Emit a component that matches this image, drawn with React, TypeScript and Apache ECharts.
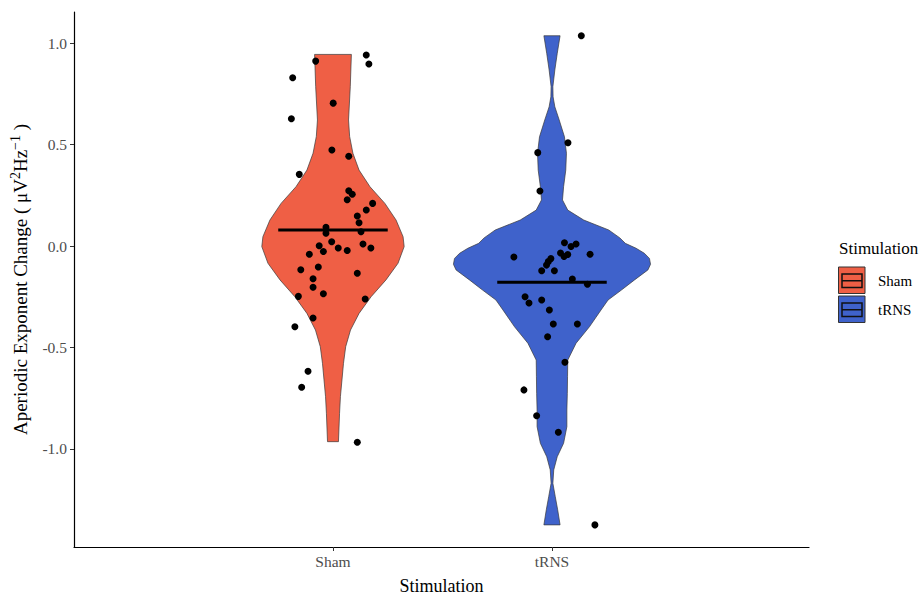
import React, { useEffect, useRef } from "react";
import * as echarts from "echarts";

const categories = ["Sham", "tRNS"];
const fillColors = ["#EF5F45", "#3F62CB"];
const yTickValues = [-1.0, -0.5, 0.0, 0.5, 1.0];
const medians = [0.079, -0.179];

// violin outline: values (top to bottom) and half-widths in category units
const shamViolinY = [0.944, 0.785, 0.621, 0.54, 0.457, 0.374, 0.292, 0.21, 0.128, 0.046, -0.003, -0.085, -0.167, -0.25, -0.332, -0.414, -0.496, -0.578, -0.66, -0.742, -0.824, -0.964];
const shamViolinW = [0.084, 0.079, 0.071, 0.076, 0.091, 0.119, 0.169, 0.237, 0.288, 0.32, 0.325, 0.297, 0.242, 0.174, 0.119, 0.08, 0.058, 0.048, 0.041, 0.034, 0.03, 0.025];
const trnsViolinY = [1.036, 0.949, 0.867, 0.785, 0.735, 0.686, 0.621, 0.538, 0.457, 0.374, 0.292, 0.227, 0.177, 0.128, 0.079, 0.04, 0.013, -0.011, -0.036, -0.061, -0.09, -0.118, -0.167, -0.217, -0.266, -0.315, -0.398, -0.479, -0.562, -0.644, -0.726, -0.808, -0.89, -0.972, -1.038, -1.103, -1.169, -1.235, -1.3, -1.374];
const trnsViolinW = [0.037, 0.024, 0.013, 0.004, 0.005, 0.013, 0.033, 0.057, 0.066, 0.063, 0.053, 0.048, 0.072, 0.145, 0.259, 0.31, 0.335, 0.384, 0.422, 0.445, 0.45, 0.438, 0.377, 0.317, 0.256, 0.224, 0.171, 0.11, 0.072, 0.071, 0.07, 0.068, 0.068, 0.053, 0.024, 0.008, 0.004, 0.015, 0.026, 0.037];

// individual points: horizontal jitter (category units) and values
const shamJitter = [-0.079, 0.152, 0.164, -0.184, 0.001, -0.19, -0.005, 0.072, -0.154, 0.072, 0.088, 0.065, 0.181, 0.152, 0.111, 0.119, -0.032, -0.032, 0.128, -0.063, -0.006, -0.044, 0.024, 0.065, 0.137, 0.173, -0.108, -0.147, -0.067, -0.091, -0.091, -0.044, 0.111, -0.158, 0.147, -0.091, -0.174, -0.114, -0.143, 0.111];
const shamValues = [0.911, 0.941, 0.897, 0.829, 0.704, 0.627, 0.473, 0.442, 0.353, 0.272, 0.255, 0.228, 0.21, 0.177, 0.148, 0.115, 0.092, 0.063, 0.07, 0.001, 0.021, -0.027, -0.01, -0.022, 0.01, -0.01, -0.041, -0.117, -0.103, -0.161, -0.203, -0.235, -0.134, -0.248, -0.261, -0.355, -0.398, -0.617, -0.696, -0.967];
const trnsJitter = [0.134, 0.073, -0.065, -0.055, 0.057, 0.11, 0.087, -0.174, 0.039, 0.055, 0.072, 0.174, -0.005, -0.017, -0.025, -0.047, 0.011, 0.093, 0.162, -0.123, -0.105, -0.047, -0.012, 0.006, 0.116, -0.02, 0.059, -0.128, -0.07, 0.029, 0.196];
const trnsValues = [1.036, 0.509, 0.46, 0.271, 0.016, 0.01, -0.002, -0.054, -0.034, -0.052, -0.042, -0.041, -0.062, -0.077, -0.094, -0.122, -0.122, -0.163, -0.188, -0.25, -0.281, -0.266, -0.315, -0.384, -0.384, -0.447, -0.573, -0.709, -0.836, -0.918, -1.374];

const FONT = "'Liberation Serif', 'Times New Roman', serif";

export default function App() {
  const ref = useRef<HTMLDivElement>(null);

  useEffect(() => {
    if (!ref.current) return;
    const chart = echarts.init(ref.current, null, { renderer: "svg" });

    const profiles = [
      { y: shamViolinY, w: shamViolinW },
      { y: trnsViolinY, w: trnsViolinW },
    ];
    const pointSets = [
      { j: shamJitter, v: shamValues },
      { j: trnsJitter, v: trnsValues },
    ];
    const pointData: number[][] = [];
    pointSets.forEach((s, i) => {
      s.v.forEach((v, k) => pointData.push([i + 1 + s.j[k], v]));
    });

    const option: any = {
      animation: false,
      backgroundColor: "#ffffff",
      grid: { left: 74, right: 115, top: 12, bottom: 54, containLabel: false },
      xAxis: {
        type: "value",
        min: -0.1826,
        max: 3.1736,
        name: "Stimulation",
        nameLocation: "middle",
        nameGap: 30,
        nameTextStyle: { fontFamily: FONT, fontSize: 18, color: "#000" },
        axisLine: { show: true, onZero: false, lineStyle: { color: "#000", width: 1.2 } },
        axisTick: { show: true, customValues: [1, 2], length: 4, lineStyle: { color: "#333" } },
        axisLabel: {
          customValues: [1, 2],
          formatter: (v: number) => categories[Math.round(v) - 1] ?? "",
          fontFamily: FONT,
          fontSize: 15.5,
          color: "#4D4D4D",
          margin: 6,
        },
        splitLine: { show: false },
      },
      yAxis: {
        type: "value",
        min: -1.483,
        max: 1.153,
        name: "Aperiodic Exponent Change ( μV{sup|2}Hz{sup|−1} )",
        nameLocation: "middle",
        nameGap: 42,
        nameTextStyle: {
          fontFamily: FONT,
          fontSize: 19,
          lineHeight: 23,
          color: "#000",
          rich: {
            sup: { fontFamily: FONT, fontSize: 14, color: "#000", verticalAlign: "top", lineHeight: 23 },
          },
        },
        axisLine: { show: true, onZero: false, lineStyle: { color: "#000", width: 1.2 } },
        axisTick: { show: true, customValues: yTickValues, length: 4, lineStyle: { color: "#333" } },
        axisLabel: {
          customValues: yTickValues,
          formatter: (v: number) => v.toFixed(1),
          fontFamily: FONT,
          fontSize: 15.5,
          color: "#4D4D4D",
          margin: 7,
        },
        splitLine: { show: false },
      },
      series: [
        {
          type: "custom",
          name: "violin",
          data: [[1, 0], [2, 0]],
          z: 1,
          renderItem: (params: any, api: any) => {
            const i = params.dataIndex;
            const p = profiles[i];
            const c = i + 1;
            const right = p.y.map((y, k) => api.coord([c + p.w[k], y]));
            const left = p.y.map((y, k) => api.coord([c - p.w[k], y])).reverse();
            return {
              type: "polygon",
              shape: { points: right.concat(left) },
              style: { fill: fillColors[i], stroke: "#3a3a3a", lineWidth: 0.7 },
            };
          },
        },
        {
          type: "scatter",
          name: "points",
          data: pointData,
          symbolSize: 7,
          itemStyle: { color: "#000", opacity: 1 },
          z: 3,
        },
        {
          type: "custom",
          name: "median",
          data: medians.map((m, i) => [i + 1, m]),
          z: 4,
          renderItem: (params: any, api: any) => {
            const c = api.value(0);
            const m = api.value(1);
            const a = api.coord([c - 0.25, m]);
            const b = api.coord([c + 0.25, m]);
            return {
              type: "line",
              shape: { x1: a[0], y1: a[1], x2: b[0], y2: b[1] },
              style: { stroke: "#000", lineWidth: 3 },
            };
          },
        },
      ],
      graphic: [
        {
          type: "text",
          left: 839,
          top: 240,
          style: { text: "Stimulation", font: `17px ${FONT}`, fill: "#000" },
        },
        ...categories.flatMap((cat, i) => {
          const y0 = 267 + i * 29;
          return [
            { type: "rect", shape: { x: 838.5, y: y0, width: 26.5, height: 26.5 }, style: { fill: fillColors[i], stroke: "#333", lineWidth: 1 } },
            { type: "rect", shape: { x: 842, y: y0 + 7, width: 20, height: 13.5 }, style: { fill: "none", stroke: "#111", lineWidth: 1.5 } },
            { type: "line", shape: { x1: 842, y1: y0 + 13.75, x2: 862, y2: y0 + 13.75 }, style: { stroke: "#111", lineWidth: 1.5 } },
            { type: "text", left: 878, top: y0 + 6, style: { text: cat, font: `15px ${FONT}`, fill: "#000" } },
          ];
        }),
      ],
    };

    chart.setOption(option);
    return () => chart.dispose();
  }, []);

  return (
    <div
      ref={ref}
      style={{ position: "fixed", left: 0, top: 0, width: 924, height: 601, background: "#fff" }}
    />
  );
}
